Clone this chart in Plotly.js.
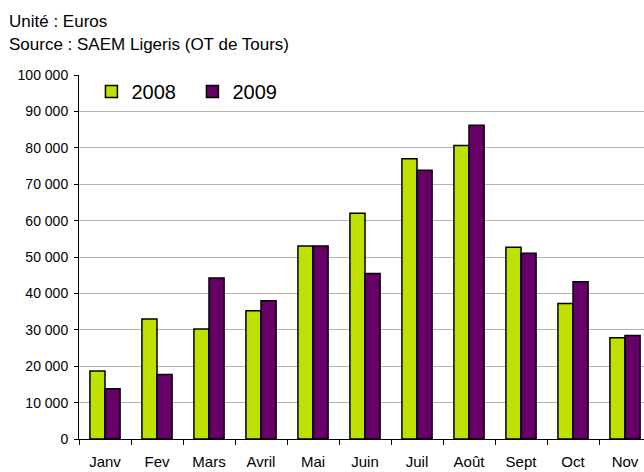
<!DOCTYPE html>
<html>
<head>
<meta charset="utf-8">
<script src="https://cdn.plot.ly/plotly-3.0.1.min.js"></script>
<style>html,body{margin:0;padding:0;background:#fff;}#chart{width:644px;height:472px;}</style>
</head>
<body>
<div id="chart"></div>
<script>
var months = ["Janv", "Fev", "Mars", "Avril", "Mai", "Juin", "Juil", "Août", "Sept", "Oct", "Nov"];
var values2008 = [18700, 33000, 30200, 35200, 53000, 62000, 77000, 80600, 52700, 37200, 27800];
var values2009 = [13800, 17700, 44200, 38000, 53000, 45500, 73800, 86200, 51000, 43200, 28400];
var seriesNames = ["2008", "2009"];
var headerLines = ["Unité : Euros", "Source : SAEM Ligeris (OT de Tours)"];

var FONT = "Liberation Sans, Arial, sans-serif";
var traces = [
  {type: "bar", name: seriesNames[0], x: months, y: values2008,
   marker: {color: "#bfe000", line: {color: "#000", width: 1.5}}},
  {type: "bar", name: seriesNames[1], x: months, y: values2009,
   marker: {color: "#660066", line: {color: "#000", width: 1.5}}}
];

var layout = {
  width: 644, height: 472,
  margin: {l: 79, r: 0, t: 75, b: 33, pad: 0},
  paper_bgcolor: "#fff", plot_bgcolor: "#fff",
  font: {family: FONT, size: 14, color: "#000"},
  separators: ". ",
  barmode: "group", bargap: 0.42, bargroupgap: 0,
  showlegend: true,
  legend: {orientation: "h", x: 0.022, y: 1.008, xanchor: "left", yanchor: "top",
           font: {family: FONT, size: 20, color: "#000"}, bgcolor: "rgba(0,0,0,0)",
           itemwidth: 30, entrywidth: 56, traceorder: "normal"},
  xaxis: {type: "category", range: [-0.5, 10.365], fixedrange: true,
          showline: true, linecolor: "#000", linewidth: 1,
          ticks: "outside", tickson: "boundaries", ticklen: 5, tickcolor: "#000",
          ticklabelstandoff: 9,
          showgrid: false, tickfont: {family: FONT, size: 15, color: "#000"}},
  yaxis: {range: [0, 100000], dtick: 10000, tickformat: ",d",
          showline: true, linecolor: "#000", linewidth: 1,
          ticks: "outside", ticklen: 4, tickcolor: "#000", ticklabelstandoff: 3,
          showgrid: true, gridcolor: "#b4b4b4", gridwidth: 1, zeroline: false,
          tickfont: {family: FONT, size: 14, color: "#000"}},
  annotations: [
    {text: headerLines[0], xref: "paper", yref: "paper", x: -72/565, y: 1 + 54/364,
     xanchor: "left", yanchor: "middle", showarrow: false, font: {family: FONT, size: 17}},
    {text: headerLines[1], xref: "paper", yref: "paper", x: -72/565, y: 1 + 30.5/364,
     xanchor: "left", yanchor: "middle", showarrow: false, font: {family: FONT, size: 17}}
  ]
};
Plotly.newPlot("chart", traces, layout, {displayModeBar: false, staticPlot: true});
</script>
</body>
</html>
